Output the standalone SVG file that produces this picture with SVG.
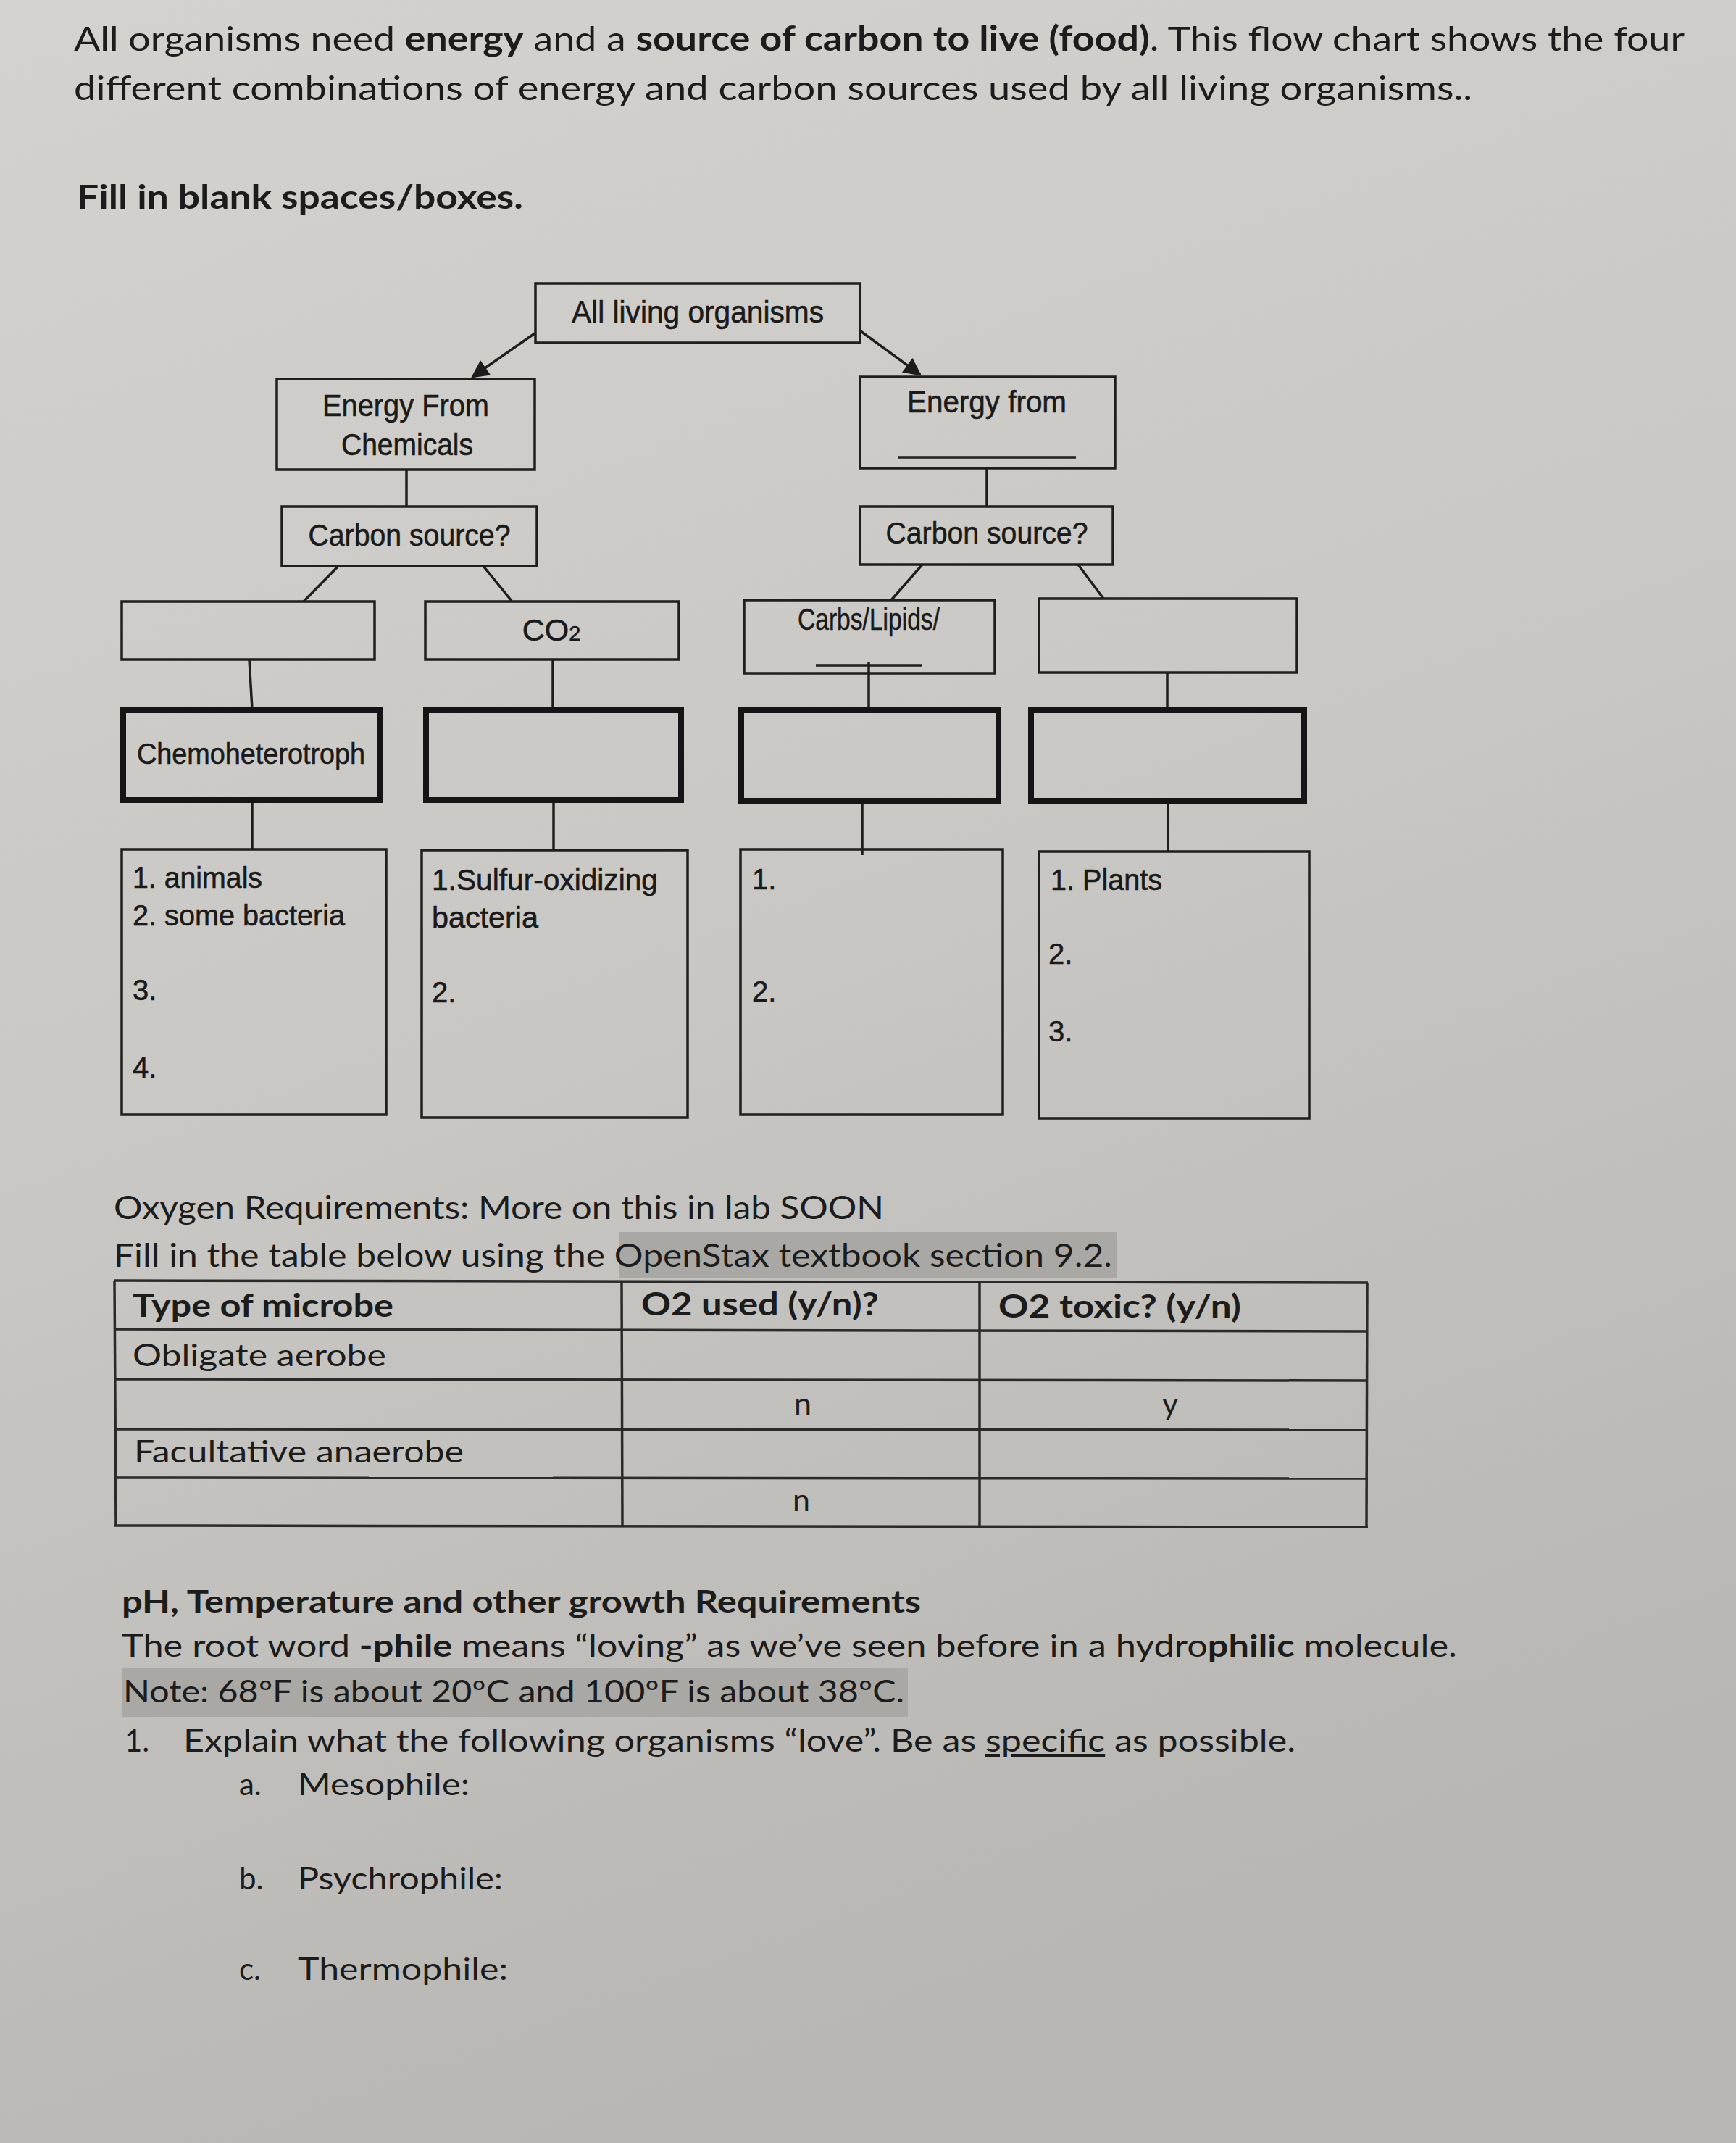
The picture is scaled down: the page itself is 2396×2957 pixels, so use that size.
<svg xmlns="http://www.w3.org/2000/svg" width="2396" height="2957" viewBox="0 0 2396 2957">
<defs>
<linearGradient id="paper" x1="0" y1="0" x2="0.3" y2="1">
<stop offset="0" stop-color="#d3d2ce"/>
<stop offset="0.5" stop-color="#c9c8c4"/>
<stop offset="1" stop-color="#b8b7b3"/>
</linearGradient>
<marker id="arr" viewBox="0 0 10 10" refX="9" refY="5" markerWidth="8" markerHeight="7" orient="auto" markerUnits="strokeWidth">
<path d="M0,0 L10,5 L0,10 z" fill="#1c1c1c"/>
</marker>
<style>
.box{fill:none;stroke:#1e1e1e;stroke-width:3.5}
.thick{fill:none;stroke:#151515;stroke-width:8}
.ln{stroke:#1e1e1e;stroke-width:3.5;fill:none}
.ct{font-family:"Liberation Sans",Arial,sans-serif;font-size:40px;fill:#1a1a1a;stroke:#1a1a1a;stroke-width:0.6}
.ctm{font-family:"Liberation Sans",Arial,sans-serif;font-size:43px;fill:#1a1a1a;stroke:#1a1a1a;stroke-width:0.6;text-anchor:middle}
.body{font-family:Lato,"Open Sans",sans-serif;fill:#1c1c1c}
.b{font-weight:bold}
.tl{stroke:#2a2a2a;stroke-width:3.5;fill:none}
.hl{fill:#a9a8a4}
</style>
</defs>
<rect width="2396" height="2957" fill="url(#paper)"/>

<!-- Intro text -->
<g id="intro">
<text class="body" x="102" y="70" font-size="47" textLength="2223" lengthAdjust="spacingAndGlyphs">All organisms need <tspan class="b">energy</tspan> and a <tspan class="b">source of carbon to live (food)</tspan>.  This flow chart shows the four</text>
<text class="body" x="102" y="138" font-size="47" textLength="1930" lengthAdjust="spacingAndGlyphs">different combinations of energy and carbon sources used by all living organisms..</text>
<text class="body b" x="106" y="288" font-size="46" textLength="616" lengthAdjust="spacingAndGlyphs">Fill in blank spaces/boxes.</text>
</g>

<!-- Connectors -->
<g id="connectors">
<line class="ln" x1="738" y1="460" x2="652" y2="520" marker-end="url(#arr)"/>
<line class="ln" x1="1188" y1="457" x2="1270" y2="517" marker-end="url(#arr)"/>
<line class="ln" x1="561" y1="648" x2="561" y2="699"/>
<line class="ln" x1="1362" y1="646" x2="1362" y2="699"/>
<line class="ln" x1="467" y1="781" x2="419" y2="830"/>
<line class="ln" x1="667" y1="781" x2="706" y2="829"/>
<line class="ln" x1="1273" y1="779" x2="1230" y2="828"/>
<line class="ln" x1="1488" y1="779" x2="1523" y2="826"/>
<line class="ln" x1="344" y1="910" x2="348" y2="979"/>
<line class="ln" x1="763" y1="910" x2="763" y2="979"/>
<line class="ln" x1="1199" y1="914" x2="1199" y2="978"/>
<line class="ln" x1="1611" y1="928" x2="1611" y2="978"/>
<line class="ln" x1="348" y1="1104" x2="348" y2="1172"/>
<line class="ln" x1="764" y1="1104" x2="764" y2="1173"/>
<line class="ln" x1="1190" y1="1105" x2="1190" y2="1180"/>
<line class="ln" x1="1612" y1="1105" x2="1612" y2="1175"/>
</g>

<!-- Nodes -->
<g id="all-living">
<rect class="box" x="739" y="391" width="448" height="82"/>
<text class="ctm" x="963" y="445" font-size="44" textLength="348" lengthAdjust="spacingAndGlyphs">All living organisms</text>
</g>
<g id="energy-chemicals">
<rect class="box" x="382" y="523" width="356" height="125"/>
<text class="ctm" x="560" y="574" textLength="230" lengthAdjust="spacingAndGlyphs">Energy From</text>
<text class="ctm" x="562" y="628" textLength="182" lengthAdjust="spacingAndGlyphs">Chemicals</text>
</g>
<g id="energy-from">
<rect class="box" x="1187" y="520" width="352" height="126"/>
<text class="ctm" x="1362" y="569" textLength="220" lengthAdjust="spacingAndGlyphs">Energy from</text>
<line class="ln" x1="1239" y1="631" x2="1485" y2="631"/>
</g>
<g id="carbon-left">
<rect class="box" x="389" y="699" width="352" height="82"/>
<text class="ctm" x="565" y="753" textLength="279" lengthAdjust="spacingAndGlyphs">Carbon source?</text>
</g>
<g id="carbon-right">
<rect class="box" x="1187" y="699" width="349" height="80"/>
<text class="ctm" x="1362" y="750" textLength="279" lengthAdjust="spacingAndGlyphs">Carbon source?</text>
</g>
<g id="blank-left">
<rect class="box" x="168" y="830" width="349" height="80"/>
</g>
<g id="co2">
<rect class="box" x="587" y="830" width="350" height="80"/>
<text class="ctm" x="761" y="884" font-size="40">CO<tspan font-size="29">2</tspan></text>
</g>
<g id="carbs-lipids">
<rect class="box" x="1027" y="828" width="346" height="101"/>
<text class="ctm" x="1199" y="869" font-size="37" textLength="196" lengthAdjust="spacingAndGlyphs">Carbs/Lipids/</text>
<line class="ln" x1="1126" y1="918" x2="1273" y2="918"/>
</g>
<g id="blank-right">
<rect class="box" x="1434" y="826" width="356" height="102"/>
</g>
<g id="chemoheterotroph">
<rect class="thick" x="170" y="980" width="354" height="124"/>
<text class="ct" x="189" y="1054" font-size="41" textLength="315" lengthAdjust="spacingAndGlyphs">Chemoheterotroph</text>
</g>
<g id="thick-2">
<rect class="thick" x="588" y="980" width="352" height="124"/>
</g>
<g id="thick-3">
<rect class="thick" x="1023" y="980" width="355" height="125"/>
</g>
<g id="thick-4">
<rect class="thick" x="1423" y="980" width="377" height="125"/>
</g>
<g id="list-1">
<rect class="box" x="168" y="1172" width="365" height="366"/>
<text class="ct" x="183" y="1225" textLength="179" lengthAdjust="spacingAndGlyphs">1. animals</text>
<text class="ct" x="183" y="1277" textLength="293" lengthAdjust="spacingAndGlyphs">2. some bacteria</text>
<text class="ct" x="183" y="1380">3.</text>
<text class="ct" x="183" y="1487">4.</text>
</g>
<g id="list-2">
<rect class="box" x="582" y="1173" width="367" height="369"/>
<text class="ct" x="596" y="1228" textLength="312" lengthAdjust="spacingAndGlyphs">1.Sulfur-oxidizing</text>
<text class="ct" x="596" y="1280" textLength="147" lengthAdjust="spacingAndGlyphs">bacteria</text>
<text class="ct" x="596" y="1383">2.</text>
</g>
<g id="list-3">
<rect class="box" x="1022" y="1172" width="362" height="366"/>
<text class="ct" x="1038" y="1227">1.</text>
<text class="ct" x="1038" y="1382">2.</text>
</g>
<g id="list-4">
<rect class="box" x="1434" y="1175" width="373" height="368"/>
<text class="ct" x="1450" y="1228" textLength="154" lengthAdjust="spacingAndGlyphs">1. Plants</text>
<text class="ct" x="1447" y="1330">2.</text>
<text class="ct" x="1447" y="1437">3.</text>
</g>

<!-- Oxygen section -->
<g id="oxygen">
<rect class="hl" x="855" y="1700" width="687" height="64"/>
<text class="body" x="157" y="1682" font-size="44" textLength="1063" lengthAdjust="spacingAndGlyphs">Oxygen Requirements: More on this in lab SOON</text>
<text class="body" x="157" y="1748" font-size="44" textLength="1378" lengthAdjust="spacingAndGlyphs">Fill in the table below using the OpenStax textbook section 9.2.</text>
<line class="tl" x1="157" y1="1767" x2="1888" y2="1770"/>
<line class="tl" x1="157" y1="1834" x2="1888" y2="1837"/>
<line class="tl" x1="157" y1="1903" x2="1888" y2="1905"/>
<line class="tl" x1="157" y1="1972" x2="1888" y2="1973"/>
<line class="tl" x1="157" y1="2039" x2="1888" y2="2040"/>
<line class="tl" x1="157" y1="2105" x2="1888" y2="2107"/>
<line class="tl" x1="158" y1="1767" x2="160" y2="2105"/>
<line class="tl" x1="858" y1="1768" x2="859" y2="2106"/>
<line class="tl" x1="1352" y1="1769" x2="1352" y2="2106"/>
<line class="tl" x1="1887" y1="1770" x2="1886" y2="2107"/>
<text class="body b" x="183" y="1817" font-size="43" textLength="360" lengthAdjust="spacingAndGlyphs">Type of microbe</text>
<text class="body b" x="885" y="1815" font-size="43" textLength="328" lengthAdjust="spacingAndGlyphs">O2 used (y/n)?</text>
<text class="body b" x="1378" y="1818" font-size="43" textLength="335" lengthAdjust="spacingAndGlyphs">O2 toxic? (y/n)</text>
<text class="body" x="183" y="1885" font-size="43" textLength="350" lengthAdjust="spacingAndGlyphs">Obligate aerobe</text>
<text class="body" x="1096" y="1952" font-size="43">n</text>
<text class="body" x="1604" y="1952" font-size="43">y</text>
<text class="body" x="185" y="2018" font-size="43" textLength="455" lengthAdjust="spacingAndGlyphs">Facultative anaerobe</text>
<text class="body" x="1094" y="2085" font-size="43">n</text>
</g>

<!-- Growth requirements section -->
<g id="growth">
<rect class="hl" x="168" y="2301" width="1085" height="68"/>
<text class="body b" x="168" y="2225" font-size="42" textLength="1103" lengthAdjust="spacingAndGlyphs">pH, Temperature and other growth Requirements</text>
<text class="body" x="168" y="2286" font-size="42" textLength="1843" lengthAdjust="spacingAndGlyphs">The root word <tspan class="b">-phile</tspan> means “loving” as we’ve seen before in a hydro<tspan class="b">philic</tspan> molecule.</text>
<text class="body" x="170" y="2349" font-size="42" textLength="1078" lengthAdjust="spacingAndGlyphs">Note: 68ºF is about 20ºC and 100ºF is about 38ºC.</text>
<text class="body" x="172" y="2417" font-size="42">1.</text>
<text class="body" x="253" y="2417" font-size="42" textLength="1535" lengthAdjust="spacingAndGlyphs">Explain what the following organisms “love”.  Be as <tspan text-decoration="underline">specific</tspan> as possible.</text>
<text class="body" x="330" y="2477" font-size="42">a.</text>
<text class="body" x="411" y="2477" font-size="42" textLength="237" lengthAdjust="spacingAndGlyphs">Mesophile:</text>
<text class="body" x="330" y="2607" font-size="42">b.</text>
<text class="body" x="411" y="2607" font-size="42" textLength="283" lengthAdjust="spacingAndGlyphs">Psychrophile:</text>
<text class="body" x="330" y="2732" font-size="42">c.</text>
<text class="body" x="411" y="2732" font-size="42" textLength="290" lengthAdjust="spacingAndGlyphs">Thermophile:</text>
</g>
</svg>
